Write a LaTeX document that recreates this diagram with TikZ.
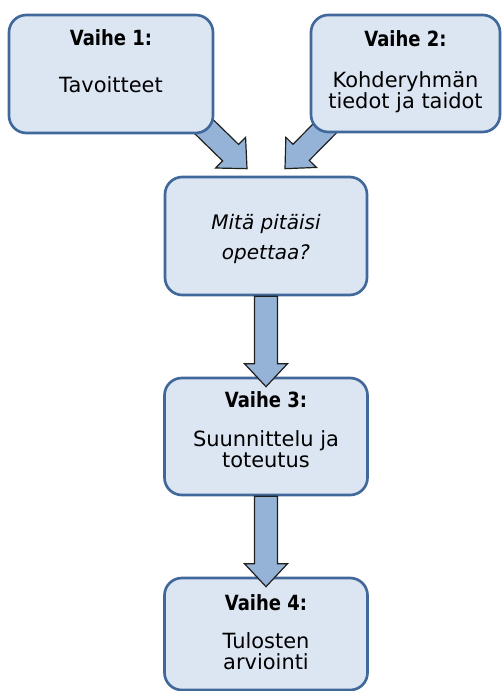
\documentclass[tikz,border=0pt]{standalone}
\usepackage{fontspec}
\setmainfont{DejaVu Sans}
\newfontfamily\vaihefont{DejaVu Sans}[FakeStretch=0.86]
\usetikzlibrary{calc,backgrounds}

\definecolor{boxfill}{HTML}{DCE6F2}
\definecolor{boxline}{HTML}{41689A}
\definecolor{arrowfill}{HTML}{95B3D7}
\definecolor{arrowline}{HTML}{1F1F1F}

\tikzset{
  stage/.style={draw=boxline, fill=boxfill, line width=2pt, rounded corners=13pt,
    align=center, inner sep=0pt, font=\fontsize{15.7}{15.75}\selectfont},
  blockarrow/.style={fill=arrowfill, draw=arrowline, line width=0.9pt, line join=miter},
}

\newcommand{\shaftw}{8.6pt}
\newcommand{\headw}{16.1pt}
\newcommand{\headlen}{17.2pt}
% fat arrow from #1 to #2
\newcommand{\blockarrow}[2]{%
  \coordinate (ba) at ($(#2)!\headlen!(#1)$);
  \filldraw[blockarrow] ($(#1)!\shaftw!90:(#2)$) -- ($(ba)!\shaftw!-90:(#1)$)
    -- ($(ba)!\headw!-90:(#1)$) -- (#2) -- ($(ba)!\headw!90:(#1)$)
    -- ($(ba)!\shaftw!90:(#1)$) -- ($(#1)!\shaftw!-90:(#2)$) -- cycle;}

\begin{document}
\begin{tikzpicture}[x=0.75pt, y=-0.75pt]
  \useasboundingbox (0,0) rectangle (502,691);

  % boxes (text height = top to last baseline)
  \node[stage, minimum width=153pt, text height=58pt, text depth=30.5pt] (v1) at (111,74)
    {{\vaihefont\bfseries Vaihe 1:}\\[19pt]Tavoitteet};
  \node[stage, minimum width=141.75pt, text height=70.5pt, text depth=17.25pt] (v2) at (405.5,73.5)
    {{\vaihefont\bfseries Vaihe 2:}\\[15pt]Kohderyhmän\\tiedot ja taidot};
  \node[stage, minimum width=151.5pt, text height=62.25pt, text depth=26.25pt,
    font=\fontsize{15}{22.5}\selectfont\itshape] (mid) at (266,236)
    {Mitä pitäisi\\opettaa?};
  \node[stage, minimum width=152.25pt, text height=66.75pt, text depth=21pt] (v3) at (266,436.5)
    {{\vaihefont\bfseries Vaihe 3:}\\[13.5pt]Suunnittelu ja\\toteutus};
  \node[stage, minimum width=152.25pt, text height=68.5pt, text depth=15.5pt] (v4) at (266,634)
    {{\vaihefont\bfseries Vaihe 4:}\\[13pt]Tulosten\\arviointi};

  % arrows into the middle box, behind the upper boxes
  \coordinate (tail1) at ($(v1.south east)+(-23,-20)$);
  \coordinate (tip1) at ($(mid.north)+(-19,-7)$);
  \coordinate (tail2) at ($(v2.south west)+(29,-19)$);
  \coordinate (tip2) at ($(mid.north)+(19,-7)$);
  \begin{pgfonlayer}{background}
    \blockarrow{tail1}{tip1}
    \blockarrow{tail2}{tip2}
  \end{pgfonlayer}

  % arrows down
  \coordinate (tip3) at ($(v3.north)+(0,10)$);
  \coordinate (tip4) at ($(v4.north)+(0,10)$);
  \blockarrow{mid.south}{tip3}
  \blockarrow{v3.south}{tip4}
\end{tikzpicture}
\end{document}
